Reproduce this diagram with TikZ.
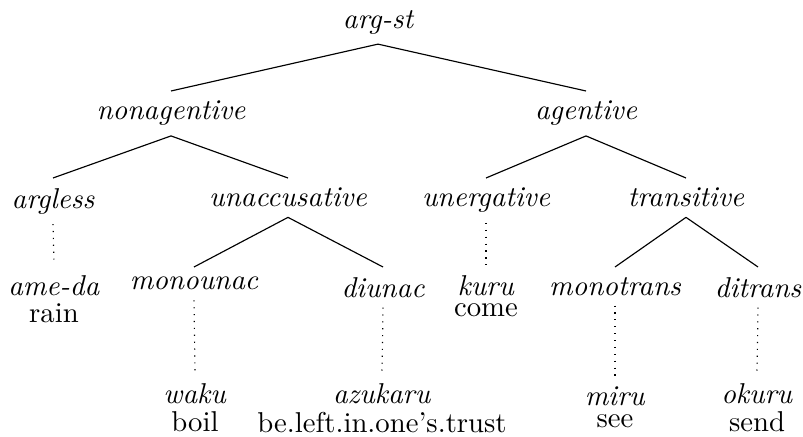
\documentclass[tikz,border=0pt]{standalone}
\begin{document}
\begin{tikzpicture}[x=0.3484pt,y=-0.3484pt,
  tn/.style={anchor=north,font=\itshape},
  lf/.style={anchor=north},
  br/.style={line width=0.4pt},
  dt/.style={dotted}]
\useasboundingbox (0,0) rectangle (803,437);
\node[tn] (argst) at (378,0) {arg-st};
\node[tn] (nonag) at (171,91) {nonagentive};
\node[tn] (ag) at (586,91) {agentive};
\node[tn] (argless) at (53,178) {argless};
\node[tn] (unacc) at (288,178) {unaccusative};
\node[tn] (unerg) at (486,178) {unergative};
\node[tn] (trans) at (686,178) {transitive};
\node[tn] (monoun) at (194,267) {monounac};
\node[tn] (diun) at (383,267) {diunac};
\node[tn] (monotr) at (615,267) {monotrans};
\node[tn] (ditr) at (758,267) {ditrans};
\node[lf] (ameda) at (54,265) {\shortstack{\textit{ame-da}\\rain}};
\node[lf] (kuru) at (486,265) {\shortstack{\textit{kuru}\\come}};
\node[lf] (waku) at (195,373) {\shortstack{\textit{waku}\\boil}};
\node[lf] (azuk) at (382,373) {\shortstack{\textit{azukaru}\\be.left.in.one's.trust}};
\node[lf] (miru) at (615,377) {\shortstack{\textit{miru}\\see}};
\node[lf] (okuru) at (757,373) {\shortstack{\textit{okuru}\\send}};
\draw[br] (argst.south) -- (nonag.north);
\draw[br] (argst.south) -- (ag.north);
\draw[br] (nonag.south) -- (argless.north);
\draw[br] (nonag.south) -- (unacc.north);
\draw[br] (ag.south) -- (unerg.north);
\draw[br] (ag.south) -- (trans.north);
\draw[br] (unacc.south) -- (monoun.north);
\draw[br] (unacc.south) -- (diun.north);
\draw[br] (trans.south) -- (monotr.north);
\draw[br] (trans.south) -- (ditr.north);
\draw[dt] (argless.south) -- (ameda.north);
\draw[dt] (unerg.south) -- (kuru.north);
\draw[dt] (monoun.south) -- (waku.north);
\draw[dt] (diun.south) -- (azuk.north);
\draw[dt] (monotr.south) -- (miru.north);
\draw[dt] (ditr.south) -- (okuru.north);
\end{tikzpicture}
\end{document}
